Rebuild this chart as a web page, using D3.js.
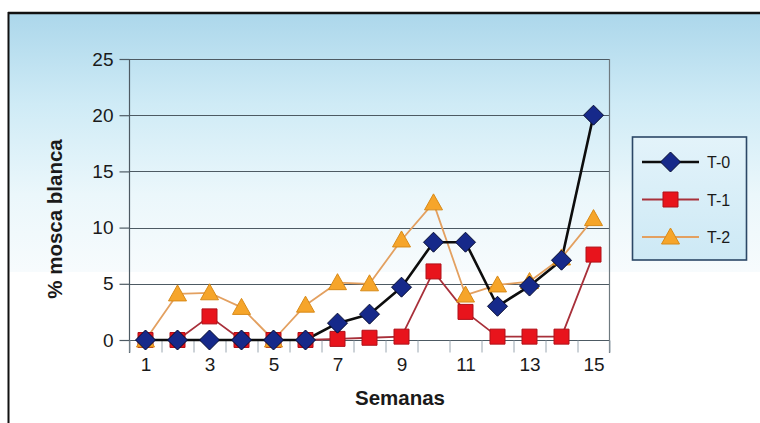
<!DOCTYPE html>
<html>
<head>
<meta charset="utf-8">
<script src="https://cdn.jsdelivr.net/npm/d3@7/dist/d3.min.js"></script>
<style>
  html, body { margin: 0; padding: 0; background: #ffffff; }
  svg { display: block; font-family: "Liberation Sans", Arial, sans-serif; }
</style>
</head>
<body>
<svg id="chart" width="760" height="423"></svg>
<script>
// Weekly whitefly percentage per treatment
const weeks = [1, 2, 3, 4, 5, 6, 7, 8, 9, 10, 11, 12, 13, 14, 15];
const t0 = [0, 0, 0, 0, 0, 0, 1.5, 2.3, 4.7, 8.7, 8.7, 3.0, 4.8, 7.1, 20];
const t1 = [0, 0, 2.1, 0, 0, 0, 0.1, 0.2, 0.3, 6.1, 2.5, 0.3, 0.3, 0.3, 7.6];
const t2 = [0, 4.1, 4.2, 2.9, 0, 3.1, 5.1, 5.0, 8.9, 12.2, 4.0, 4.9, 5.2, 7.3, 10.8];
const seriesNames = ["T-0", "T-1", "T-2"];
const yTicks = [0, 5, 10, 15, 20, 25];
const xTickLabels = [1, 3, 5, 7, 9, 11, 13, 15];
const yTitle = "% mosca blanca";
const xTitle = "Semanas";

const svg = d3.select("#chart");

// Background panel with soft blue gradient
const defs = svg.append("defs");
const bg = defs.append("linearGradient").attr("id", "bgGrad")
  .attr("x1", 0).attr("y1", 0).attr("x2", 0).attr("y2", 1);
bg.append("stop").attr("offset", "0%").attr("stop-color", "#acd7eb");
bg.append("stop").attr("offset", "35%").attr("stop-color", "#cfebf6");
bg.append("stop").attr("offset", "70%").attr("stop-color", "#ebf7fb");
bg.append("stop").attr("offset", "100%").attr("stop-color", "#f7fbfd");

const lg = defs.append("linearGradient").attr("id", "legGrad")
  .attr("x1", 0).attr("y1", 0).attr("x2", 0).attr("y2", 1);
lg.append("stop").attr("offset", "0%").attr("stop-color", "#e3f3fa");
lg.append("stop").attr("offset", "100%").attr("stop-color", "#cde9f5");

svg.append("rect").attr("x", 9).attr("y", 14).attr("width", 751).attr("height", 258)
  .attr("fill", "url(#bgGrad)");

// Frame lines at top and left
svg.append("line").attr("x1", 8).attr("x2", 760).attr("y1", 13).attr("y2", 13)
  .attr("stroke", "#111").attr("stroke-width", 2.5);
svg.append("line").attr("x1", 8.5).attr("x2", 8.5).attr("y1", 12).attr("y2", 423)
  .attr("stroke", "#111").attr("stroke-width", 2);

// Scales
const x = d3.scaleBand().domain(weeks).range([129.5, 609.5]);
const cx = d => x(d) + x.bandwidth() / 2;
const xEdge = d3.scaleLinear().domain([0.5, 15.5]).range([129.5, 609.5]);
const y = d3.scaleLinear().domain([0, 25]).range([340, 59]);

// Horizontal gridlines
svg.append("g").selectAll("line").data(yTicks).join("line")
  .attr("x1", 129.5).attr("x2", 609.5)
  .attr("y1", d => Math.round(y(d)) + 0.5).attr("y2", d => Math.round(y(d)) + 0.5)
  .attr("stroke", "#4d5a63").attr("stroke-width", 1.2);

// Right border of the plot
svg.append("line").attr("x1", 609.5).attr("x2", 609.5).attr("y1", y(25)).attr("y2", 353)
  .attr("stroke", "#6f7a80").attr("stroke-width", 1.2);

// Y axis
const yAxis = svg.append("g").attr("transform", "translate(129.5,0)")
  .call(d3.axisLeft(y).tickValues(yTicks).tickSize(10).tickPadding(6));
yAxis.select(".domain").attr("stroke", "#4d5a63").attr("stroke-width", 1.2)
  .attr("d", `M0,${y(25)}V353`);
yAxis.selectAll(".tick line").attr("stroke", "#4d5a63").attr("stroke-width", 1.2);
yAxis.selectAll(".tick text").attr("font-size", 19).attr("fill", "#1a1a1a")
  .attr("font-family", "'Liberation Sans', Arial, sans-serif");

// X axis tick marks at week boundaries
const xTicksG = svg.append("g").attr("transform", `translate(0,${Math.round(y(0)) + 0.5})`)
  .call(d3.axisBottom(xEdge).tickValues(d3.range(0.5, 16, 1)).tickSize(12).tickFormat(""));
xTicksG.select(".domain").remove();
xTicksG.selectAll(".tick line").attr("stroke", "#9aa6b0").attr("stroke-width", 1);

// X axis labels on odd weeks
const xLab = svg.append("g").attr("transform", "translate(0,353)")
  .call(d3.axisBottom(d3.scalePoint().domain(weeks).range([cx(1), cx(15)]))
    .tickValues(xTickLabels).tickSize(0).tickPadding(5));
xLab.select(".domain").remove();
xLab.selectAll(".tick text").attr("font-size", 19).attr("fill", "#1a1a1a")
  .attr("font-family", "'Liberation Sans', Arial, sans-serif");

// Axis titles
svg.append("text").attr("x", 400).attr("y", 405).attr("text-anchor", "middle")
  .attr("font-size", 20.5).attr("font-weight", "bold").attr("fill", "#1a1a1a").text(xTitle);
svg.append("text").attr("transform", "translate(62,219) rotate(-90)")
  .attr("text-anchor", "middle").attr("font-size", 20.5).attr("font-weight", "bold")
  .attr("fill", "#1a1a1a").text(yTitle);

// Series styling
const series = [
  { name: seriesNames[0], values: t0, line: "#0d0d0d", lw: 2.6, fill: "#16298a", stroke: "#050b30", shape: "diamond" },
  { name: seriesNames[1], values: t1, line: "#a8303a", lw: 1.8, fill: "#e8141c", stroke: "#b01018", shape: "square" },
  { name: seriesNames[2], values: t2, line: "#e3a060", lw: 1.8, fill: "#f6a52a", stroke: "#d88a18", shape: "triangle" }
];

function markerPath(shape) {
  if (shape === "diamond") return "M0,-10L10,0L0,10L-10,0Z";
  if (shape === "square") return "M-7.5,-7.5H7.5V7.5H-7.5Z";
  return "M0,-9L9,7H-9Z";
}

const lineGen = d3.line().x(d => cx(d.w)).y(d => y(d.v));

// Lines first (T-2, T-1, T-0), then markers (T-1, T-2, T-0)
[2, 1, 0].forEach(i => {
  const s = series[i];
  const pts = weeks.map((w, k) => ({ w, v: s.values[k] }));
  svg.append("path").datum(pts).attr("d", lineGen).attr("fill", "none")
    .attr("stroke", s.line).attr("stroke-width", s.lw).attr("stroke-linejoin", "round");
});
[1, 2, 0].forEach(i => {
  const s = series[i];
  const pts = weeks.map((w, k) => ({ w, v: s.values[k] }));
  svg.append("g").selectAll("path").data(pts).join("path")
    .attr("transform", d => `translate(${cx(d.w)},${y(d.v)})`)
    .attr("d", markerPath(s.shape))
    .attr("fill", s.fill).attr("stroke", s.stroke).attr("stroke-width", 1);
});

// Legend
const leg = svg.append("g");
leg.append("rect").attr("x", 632.5).attr("y", 137).attr("width", 114).attr("height", 123)
  .attr("fill", "url(#legGrad)").attr("stroke", "#2b4766").attr("stroke-width", 1.6);
const legY = d3.scalePoint().domain(seriesNames).range([162, 237]);
series.forEach(s => {
  const ly = legY(s.name);
  leg.append("line").attr("x1", 642).attr("x2", 699).attr("y1", ly).attr("y2", ly)
    .attr("stroke", s.line).attr("stroke-width", s.lw);
  leg.append("path").attr("transform", `translate(670.5,${ly})`).attr("d", markerPath(s.shape))
    .attr("fill", s.fill).attr("stroke", s.stroke).attr("stroke-width", 1);
  leg.append("text").attr("x", 707).attr("y", ly + 6).attr("font-size", 16)
    .attr("fill", "#1a1a1a").text(s.name);
});
</script>
</body>
</html>
